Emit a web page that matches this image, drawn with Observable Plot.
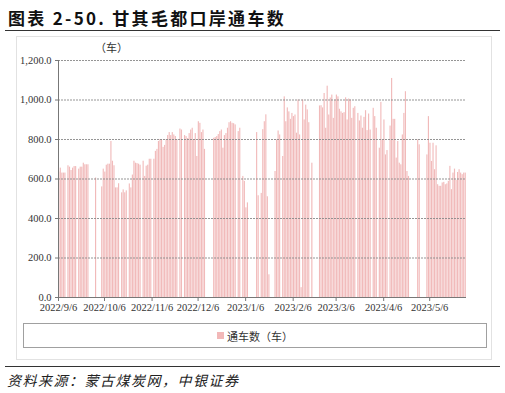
<!DOCTYPE html>
<html>
<head>
<meta charset="utf-8">
<script src="https://cdn.jsdelivr.net/npm/d3@7"></script>
<script src="https://cdn.jsdelivr.net/npm/@observablehq/plot@0.6"></script>
<style>
  html, body { margin: 0; padding: 0; background: #fff; }
  body { width: 505px; height: 393px; position: relative; overflow: hidden; font-family: "Noto Sans CJK SC", sans-serif; }
  #title { position: absolute; left: 8px; top: 5px; font-size: 17px; font-weight: bold; letter-spacing: 2.3px; color: #111; font-family: "Noto Sans CJK SC", "Liberation Serif", serif; }
  #rule1 { position: absolute; left: 5px; top: 30px; width: 495px; height: 0; border-top: 1.5px solid #333; }
  #frame { position: absolute; left: 16px; top: 36px; width: 474px; height: 322px; border: 1px solid #e2e2e2; }
  #chart { position: absolute; left: 0; top: 32px; }
  #unit { position: absolute; left: 95px; top: 39px; font-size: 11px; color: #333; }
  #legend { position: absolute; left: 23px; top: 323px; width: 462px; height: 23px; border: 1px solid #a0a0a0; display: flex; align-items: center; justify-content: center; font-size: 11px; color: #333; }
  #legend .sw { width: 7px; height: 7px; background: #f2b8b8; margin-right: 3px; }
  #rule2 { position: absolute; left: 5px; top: 366px; width: 495px; height: 0; border-top: 1.5px solid #333; }
  #source { position: absolute; left: 7px; top: 370px; font-size: 14px; font-style: italic; letter-spacing: 1.5px; color: #222; }
</style>
</head>
<body>
<div id="title">图表 2-50. 甘其毛都口岸通车数</div>
<div id="rule1"></div>
<div id="frame"></div>
<div id="chart"></div>
<div id="unit">（车）</div>
<div id="legend"><span class="sw"></span><span>通车数（车）</span></div>
<div id="rule2"></div>
<div id="source">资料来源：蒙古煤炭网，中银证券</div>
<script>
// First day of the daily series
const startDate = "2022-09-06";
const endDate = "2023-05-30";
// Daily vehicle counts (null = no crossing recorded)
const counts = [
  635, 655, 630, 630, 630, null, 667, 660, 643, 655,
  663, 663, null, 650, 660, 660, 680, 672, 672, 672,
  null, null, null, null, 605, null, null, null, 560, 650,
  635, 670, 675, 675, 790, 690, 667, 555, 555, 576,
  null, 530, 545, 530, 540, null, 575, 555, 620, 690,
  680, 678, 675, 670, null, 690, 613, 665, 670, 700,
  700, null, 700, 740, 750, 790, 800, 800, 760, 770,
  800, 820, 835, 820, 835, 823, 815, 800, null, 853,
  848, null, 820, 815, 805, 830, 848, 857, 800, 830,
  714, 890, 882, 835, 848, 750, null, null, null, null,
  null, 806, 810, 815, 825, 840, 848, 756, 820, 830,
  857, 885, 890, 882, 880, 874, null, 840, 857, null,
  613, 588, 454, 479, null, null, null, null, null, 835,
  515, null, 527, 850, 890, 925, 510, 115, null, null,
  null, 638, 798, 843, 823, null, 714, 1016, 890, 960,
  940, 902, 932, 916, 924, 832, 1000, 823, 50, 1000,
  899, 974, 950, 885, null, 680, null, null, null, null,
  970, 971, 960, 1033, 857, 1070, 924, 1010, 1025, 907,
  1000, 1025, 1016, 953, 940, 932, 936, 1011, 899, 1005,
  1000, 907, 958, 966, null, 932, 894, 919, 857, 912,
  946, 845, 929, 848, null, 958, 916, 857, null, 756,
  988, 798, 899, 722, 744, null, 868, 1109, 902, 902,
  706, 790, 680, 672, 823, 932, 1042, 638, 613, null,
  null, null, null, null, 798, 773, null, null, null, null,
  722, 916, 781, 689, 781, 647, 768, 571, 563, 563,
  580, 583, 571, 575, 588, 664, 546, 630, 650, 593,
  633, 647, 630, 622, 630, 630
];
const tickDates = ["2022-09-06", "2022-10-06", "2022-11-06", "2022-12-06", "2023-01-06", "2023-02-06", "2023-03-06", "2023-04-06", "2023-05-06"];
const yTicks = [0, 200, 400, 600, 800, 1000, 1200];

const start = new Date(startDate);
const data = counts
  .map((v, i) => ({ date: d3.utcDay.offset(start, i), value: v }))
  .filter(d => d.value != null);

const fmtDate = d3.utcFormat("%Y/%-m/%-d");

const chart = Plot.plot({
  width: 505,
  height: 286,
  marginTop: 28,
  marginBottom: 21,
  marginLeft: 58,
  marginRight: 39,
  style: { fontFamily: "'Liberation Serif', serif", fontSize: "10.5px", color: "#333", background: "transparent" },
  x: { type: "utc", domain: [new Date(startDate), new Date(endDate)], label: null },
  y: { domain: [0, 1200], label: null },
  marks: [
    Plot.rectY(data, { x: "date", y: "value", interval: d3.utcDay, fill: "#f0b2b2", fillOpacity: 0.9, insetLeft: 0.2, insetRight: 0.2 }),
    Plot.ruleY(yTicks.filter(t => t > 0), { stroke: "#8a8a8a", strokeDasharray: "2,1", strokeWidth: 1, strokeOpacity: 0.9 }),
    Plot.ruleY([0], { stroke: "#777" }),
    Plot.ruleX([new Date(startDate)], { stroke: "#777" }),
    Plot.axisY({ ticks: yTicks, tickFormat: d3.format(",.1f"), tickSize: 3, tickPadding: 4, stroke: "#777", label: null }),
    Plot.axisX({ ticks: tickDates.map(d => new Date(d)), tickFormat: fmtDate, tickSize: 4, tickPadding: 2, stroke: "#777", label: null })
  ]
});
document.getElementById("chart").appendChild(chart);
</script>
</body>
</html>
